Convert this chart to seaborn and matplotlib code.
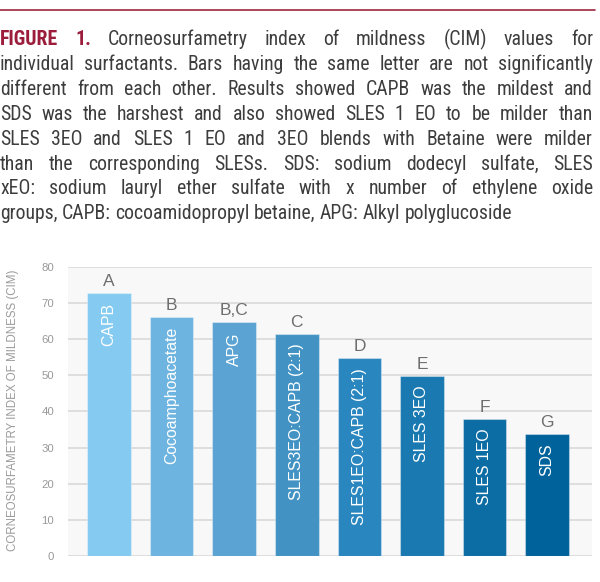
import matplotlib
matplotlib.use("Agg")
import numpy as np
import pandas as pd
import seaborn as sns
from matplotlib import pyplot as plt
from matplotlib import font_manager
from matplotlib.font_manager import FontProperties

surfactants = [
    "CAPB", "Cocoamphoacetate", "APG", "SLES3EO:CAPB (2:1)",
    "SLES1EO:CAPB (2:1)", "SLES 3EO", "SLES 1EO", "SDS",
]
cim = [72.6, 66.2, 64.6, 61.5, 54.8, 49.9, 38.0, 33.8]
letters = ["A", "B", "B,C", "C", "D", "E", "F", "G"]
bar_colors = ["#84CAF1", "#6EB4E0", "#5AA3D3", "#4293C4",
              "#2A86BE", "#1A79B1", "#0C6CA4", "#00629B"]
y_ticks = [0, 10, 20, 30, 40, 50, 60, 70, 80]

caption_lines = [
    "FIGURE 1. Corneosurfametry index of mildness (CIM) values for",
    "individual surfactants. Bars having the same letter are not significantly",
    "different from each other. Results showed CAPB was the mildest and",
    "SDS was the harshest and also showed SLES 1 EO to be milder than",
    "SLES 3EO and SLES 1 EO and 3EO blends with Betaine were milder",
    "than the corresponding SLESs. SDS: sodium dodecyl sulfate, SLES",
    "xEO: sodium lauryl ether sulfate with x number of ethylene oxide",
    "groups, CAPB: cocoamidopropyl betaine, APG: Alkyl polyglucoside",
]

df = pd.DataFrame({"surfactant": surfactants, "cim": cim})

sns.set_theme(style="white")
plt.rcParams["font.family"] = ["Liberation Sans", "DejaVu Sans"]


def _is_narrow(f):
    st = str(f.stretch).lower()
    return ("condensed" in f.name.lower() or "narrow" in f.name.lower()
            or "condensed" in st or "narrow" in st)


def _weight_num(f):
    w = f.weight
    if isinstance(w, str):
        return {"bold": 700, "normal": 400, "regular": 400, "light": 300,
                "medium": 500, "semibold": 600}.get(w.lower(), 400)
    return int(w)


# look for any installed condensed face for the caption (the original is a condensed sans)
narrow = [f for f in font_manager.fontManager.ttflist
          if _is_narrow(f) and f.style == "normal" and "mono" not in f.name.lower()]
cap_regular, cap_bold = None, None
if narrow:
    pref = ["Liberation Sans Narrow", "Roboto Condensed", "Open Sans Condensed",
            "DejaVu Sans", "Noto Sans"]
    narrow.sort(key=lambda f: next((k for k, p in enumerate(pref) if f.name.startswith(p)), 99))
    fam = narrow[0].name
    same = [f for f in narrow if f.name == fam]
    reg = min(same, key=lambda f: abs(_weight_num(f) - 400))
    bld = min(same, key=lambda f: abs(_weight_num(f) - 700))
    cap_regular = FontProperties(fname=reg.fname)
    cap_bold = FontProperties(fname=bld.fname)
if cap_regular is None:
    cap_regular = FontProperties(family="Liberation Sans")
    cap_bold = FontProperties(family="Liberation Sans", weight="bold")

W, H = 600, 582
fig = plt.figure(figsize=(W / 100, H / 100), dpi=100)
ax = fig.add_axes([68 / W, 1 - 556 / H, (592 - 68) / W, (556 - 266.7) / H])

sns.barplot(data=df, x="surfactant", y="cim", hue="surfactant", palette=bar_colors,
            legend=False, width=0.695, saturation=1, ax=ax,
            edgecolor=(1, 1, 1, 0.35), linewidth=0.8)

ax.set_facecolor("#F9F8F8")
ax.set_ylim(0, 80)
ax.set_xlim(-0.655, 7.716)
ax.set_yticks(y_ticks)
ax.yaxis.grid(True, color="#DCDCDC", linewidth=1.3)
ax.xaxis.grid(False)
ax.set_axisbelow(True)
for s in ax.spines.values():
    s.set_visible(False)
ax.set_xticks([])
ax.set_xlabel("")
ax.set_ylabel("")
ax.tick_params(axis="y", length=0, pad=10, labelsize=8.2, labelcolor="#999999")

for i, (name, val, let) in enumerate(zip(surfactants, cim, letters)):
    ax.annotate(let, (i, val), xytext=(0, 7), textcoords="offset pixels",
                ha="center", va="baseline", fontsize=12.5, color="#6E6E6E")
    ax.annotate(name, (i, val), xytext=(0, -10), textcoords="offset pixels",
                ha="center", va="top", rotation=90, fontsize=11.4, color="white")

fig.text(13 / W, 1 - 410 / H, "CORNEOSURFAMETRY INDEX OF MILDNESS (CIM)",
         rotation=90, ha="center", va="center", fontsize=8.3, color="#9A9A9A")

# red rule above the caption
fig.add_artist(plt.Line2D([0, 595 / W], [1 - 10 / H, 1 - 10 / H],
                          color="#A0273F", linewidth=1.2))

# justified caption, laid out word by word
renderer = fig.canvas.get_renderer()
red, grey = "#9C1C3C", "#3D3D3D"


def make_words(line, size):
    out = []
    for k, w in enumerate(line.split(" ")):
        bold = line.startswith("FIGURE") and k < 2
        fp = (cap_bold if bold else cap_regular).copy()
        fp.set_size(size)
        t = fig.text(0, 0, w, fontproperties=fp,
                     color=red if bold else grey, va="baseline", ha="left")
        out.append(t)
    return out


def widths(words):
    return [t.get_window_extent(renderer).width for t in words]


probe_size = 10
fp_probe = cap_regular.copy()
fp_probe.set_size(probe_size)
t1 = fig.text(0, 0, "a a", fontproperties=fp_probe)
t2 = fig.text(0, 0, "aa", fontproperties=fp_probe)
space_w = t1.get_window_extent(renderer).width - t2.get_window_extent(renderer).width
t1.remove()
t2.remove()

natural = []
for line in caption_lines[:-1]:
    ws = make_words(line, probe_size)
    natural.append(sum(widths(ws)) + 0.5 * space_w * (len(ws) - 1))
    for t in ws:
        t.remove()
col_w = 593.0
size = min(probe_size * col_w / max(natural), 14.2)

for i, line in enumerate(caption_lines):
    ws = make_words(line, size)
    wl = widths(ws)
    y = 1 - (45 + 24.9 * i) / H
    if i < len(caption_lines) - 1:
        gap = (col_w - sum(wl)) / (len(ws) - 1)
    else:
        gap = space_w * size / probe_size
    x = 0.0
    for t, w in zip(ws, wl):
        t.set_position((x / W, y))
        x += w + gap

fig.savefig("out.png", dpi=100)
